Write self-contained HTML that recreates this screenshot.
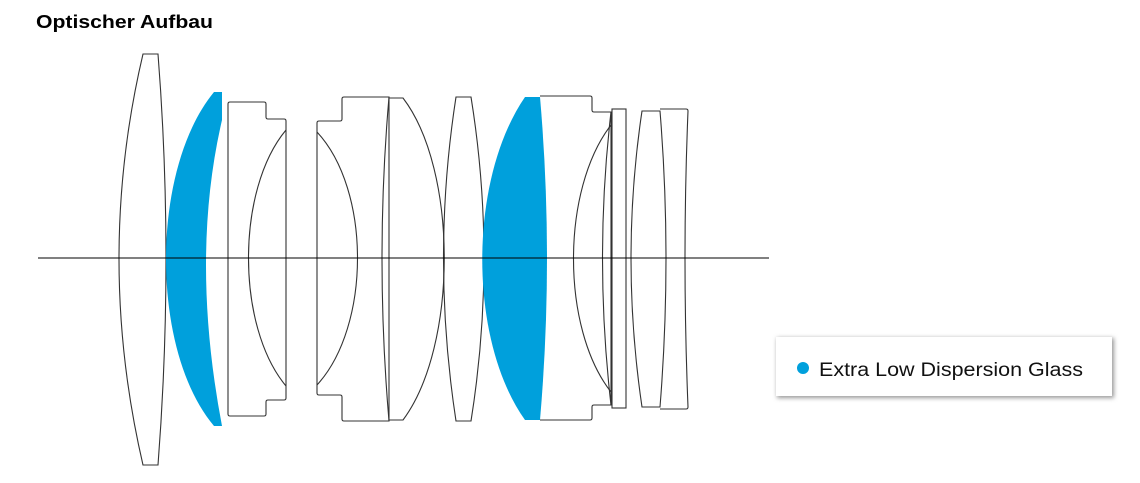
<!DOCTYPE html>
<html><head><meta charset="utf-8"><style>
body{margin:0;background:#fff;}
svg{display:block;}
</style></head><body>
<svg width="1140" height="483" viewBox="0 0 1140 483" xmlns="http://www.w3.org/2000/svg">
<text x="36" y="28" font-family="Liberation Sans, sans-serif" font-weight="bold" font-size="18" fill="#000" textLength="177" lengthAdjust="spacingAndGlyphs">Optischer Aufbau</text>
<g fill="none" stroke="#333" stroke-width="1.1">
<path d="M143,54 L158,54 Q174,258 158,465 L143,465 Q95,258 143,54 Z"/>
<path d="M230,102 L264,102 Q266,102 266,104 L266,117 Q266,119 268,119 L284,119 Q286,119 286,121 L286,398 Q286,400 284,400 L268,400 Q266,400 266,402 L266,414 Q266,416 264,416 L230,416 Q228,416 228,414 L228,104 Q228,102 230,102 Z"/>
<path d="M286,130 C236,190 236,326 286,386"/>
<path d="M319,121 L340,121 Q342,121 342,119 L342,99 Q342,97 344,97 L389,97 L389,421 L344,421 Q342,421 342,419 L342,397 Q342,395 340,395 L319,395 Q317,395 317,393 L317,123 Q317,121 319,121 Z"/>
<path d="M317,132 C371,190 371,326 317,385"/>
<path d="M389,97 Q375,258 389,421"/>
<path d="M389,98 L403,98 C458,170 458,346 403,420 L389,420"/>
<path d="M456,97 L471,97 Q497,258 471,421 L456,421 Q431,258 456,97 Z"/>
<path d="M540,96 L590,96 Q592,96 592,98 L592,110 Q592,112 594,112 L611,112 L611,405 L594,405 Q592,405 592,407 L592,418 Q592,420 590,420 L540,420"/>
<path d="M611,125 C561,190 561,328 611,392"/>
<path d="M611,112 Q594,258 611,405"/>
<rect x="612" y="109" width="14" height="299"/>
<path d="M642,111 L660,111 Q672,258 660,407 L642,407 Q620,258 642,111 Z"/>
<path d="M660,109 L686,109 Q688,109 688,111 Q682,258 688,407 Q688,409 686,409 L660,409"/>
</g>
<path d="M214,92 L222,92 L222,120 Q190,258 222,426 L214,426 C150,350 150,170 214,92 Z" fill="#00a0dc"/>
<path d="M525,97 L540,97 Q554,258 540,420 L525,420 C468,340 468,180 525,97 Z" fill="#00a0dc"/>
<line x1="38" y1="258" x2="769" y2="258" stroke="#000" stroke-width="1.1"/>
<defs><filter id="s" x="-5%" y="-20%" width="110%" height="140%"><feGaussianBlur stdDeviation="2"/></filter></defs>
<rect x="777" y="338" width="337" height="60" fill="#999" filter="url(#s)"/>
<rect x="776" y="337" width="336" height="59" fill="#fff"/>
<circle cx="803" cy="368" r="6" fill="#00a0dc"/>
<text x="819" y="376" font-family="Liberation Sans, sans-serif" font-size="19" fill="#111" textLength="264" lengthAdjust="spacingAndGlyphs">Extra Low Dispersion Glass</text>
</svg>
</body></html>
